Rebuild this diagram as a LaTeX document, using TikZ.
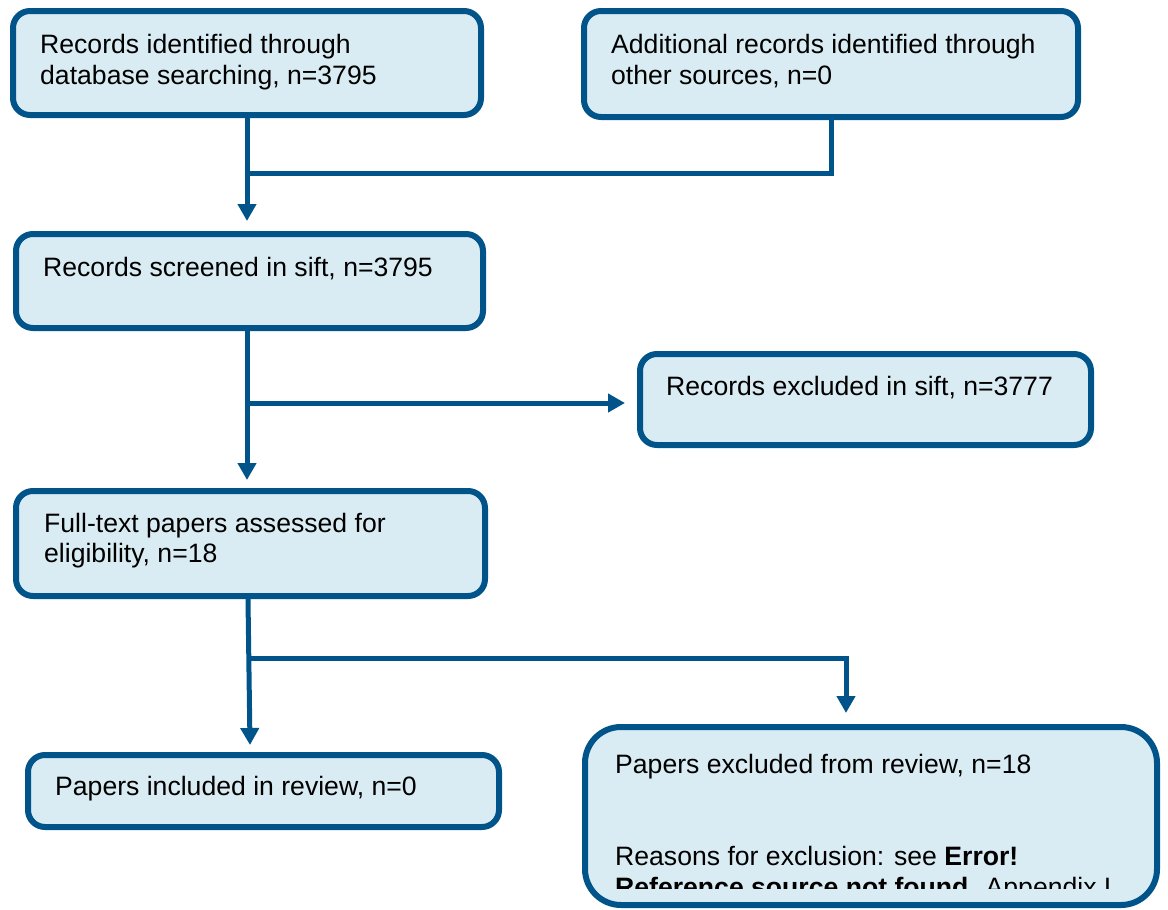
\documentclass[tikz,border=0pt]{standalone}
\usepackage{fontspec}
\setmainfont{Liberation Sans}
\usetikzlibrary{arrows.meta}
\definecolor{bordblue}{RGB}{0,84,138}
\definecolor{fillblue}{RGB}{218,236,243}
\begin{document}
\begin{tikzpicture}[x=1pt,y=-1pt,
  box/.style={draw=bordblue, fill=fillblue, line width=6pt, rounded corners=17pt, inner sep=0pt},
  txt/.style={anchor=base west, inner sep=0pt, align=left, font=\fontsize{26.6}{31}\selectfont},
  conn/.style={draw=bordblue, line width=5pt},
  arr/.style={conn, -{Triangle[length=17pt,width=18pt]}}]
\useasboundingbox (0,0) rectangle (1168,910);
% connectors (drawn first)
\coordinate (j1) at (247,173);
\coordinate (j2) at (247,403);
\coordinate (j3) at (248,658);
\coordinate (k7) at (846,658);
\coordinate (t6) at (250,745);
% boxes
\node[box, minimum width=468pt, minimum height=104pt] (b1) at (247,63) {};
\node[box, minimum width=494pt, minimum height=106pt] (b2) at (831,64) {};
\node[box, minimum width=467pt, minimum height=94pt] (b3) at (249.5,281) {};
\node[box, minimum width=451pt, minimum height=91pt] (b4) at (865.5,399.5) {};
\node[box, minimum width=469pt, minimum height=105pt] (b5) at (250.5,543.5) {};
\node[box, minimum width=471pt, minimum height=72pt] (b6) at (263.5,791) {};
\node[box, rounded corners=36pt, minimum width=572pt, minimum height=178pt] (b7) at (871,816) {};
% texts
\node[txt] (t1a) at (40,53) {Records identified through};
\node[txt] (t1b) at (40,84) {database searching, n=3795};
\node[txt] (t2a) at (611,53) {Additional records identified through};
\node[txt] (t2b) at (611,84) {other sources, n=0};
\node[txt] (t3) at (43,276) {Records screened in sift, n=3795};
\node[txt] (t4) at (666,395) {Records excluded in sift, n=3777};
\node[txt] (t5a) at (44,532) {Full-text papers assessed for};
\node[txt] (t5b) at (44,562) {eligibility, n=18};
\node[txt] (t6t) at (55,795) {Papers included in review, n=0};
\node[txt] (t7a) at (615,773) {Papers excluded from review, n=18};
\begin{scope}
\clip (590,730) rectangle (1150,888);
\node[txt] (t7b) at (615,865) {Reasons for exclusion: see \textbf{Error!}};
\node[txt] (t7c) at (615,896) {\textbf{Reference source not found.} Appendix I};
\end{scope}
% connectors
\draw[arr, shorten >=10pt] (b1.south) -- (b1.south |- b3.north);
\draw[conn] (b2.south) |- (j1);
\draw[arr, shorten >=8pt] (b3.south -| j2) -- (j2 |- b5.north);
\draw[arr, shorten >=12pt] (j2) -- (b4.west |- j2);
\draw[arr] (b5.south -| j3) -- (t6);
\draw[arr, shorten >=11pt] (j3) -- (k7) -- (k7 |- b7.north);
\end{tikzpicture}
\end{document}
